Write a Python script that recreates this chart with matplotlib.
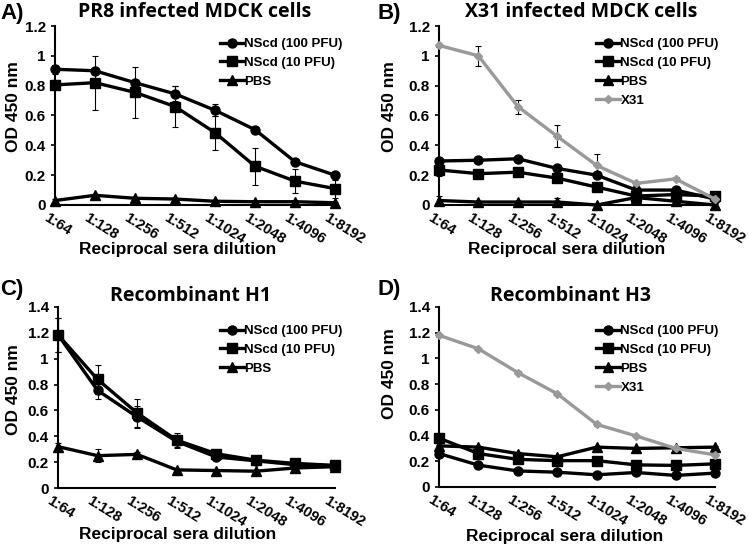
import numpy as np
from matplotlib import pyplot as plt
from matplotlib import transforms
from matplotlib.ticker import FuncFormatter

plt.rcParams['font.family'] = ['Liberation Sans', 'DejaVu Sans']
plt.rcParams['font.weight'] = 'bold'

dilutions = ['1:64', '1:128', '1:256', '1:512', '1:1024', '1:2048', '1:4096', '1:8192']
series_names = ['NScd (100 PFU)', 'NScd (10 PFU)', 'PBS', 'X31']

# A) PR8 infected MDCK cells
a_nscd100 = [0.91, 0.90, 0.82, 0.745, 0.635, 0.505, 0.29, 0.20]
a_nscd100_err = [0.03, 0.02, 0.02, 0.05, 0.04, 0.02, 0.02, 0.02]
a_nscd10 = [0.805, 0.82, 0.755, 0.66, 0.485, 0.26, 0.16, 0.11]
a_nscd10_err = [0.03, 0.18, 0.17, 0.135, 0.115, 0.125, 0.08, 0.06]
a_pbs = [0.03, 0.065, 0.045, 0.04, 0.025, 0.022, 0.022, 0.015]
a_pbs_err = [0.01, 0.01, 0.01, 0.01, 0.005, 0.005, 0.005, 0.005]

# B) X31 infected MDCK cells
b_nscd100 = [0.295, 0.30, 0.31, 0.245, 0.20, 0.10, 0.10, 0.04]
b_nscd100_err = [0.02, 0.01, 0.01, 0.01, 0.01, 0.02, 0.02, 0.01]
b_nscd10 = [0.235, 0.21, 0.22, 0.18, 0.12, 0.06, 0.07, 0.06]
b_nscd10_err = [0.04, 0.01, 0.01, 0.02, 0.01, 0.02, 0.02, 0.02]
b_pbs = [0.03, 0.02, 0.02, 0.02, 0.0, 0.05, 0.025, 0.0]
b_pbs_err = [0.03, 0.01, 0.01, 0.03, 0.01, 0.01, 0.01, 0.01]
b_x31 = [1.07, 1.0, 0.66, 0.46, 0.265, 0.145, 0.175, 0.04]
b_x31_err = [0.01, 0.065, 0.047, 0.073, 0.076, 0.01, 0.01, 0.01]

# C) Recombinant H1
c_nscd100 = [1.185, 0.755, 0.55, 0.36, 0.24, 0.21, 0.18, 0.165]
c_nscd100_err = [0.13, 0.067, 0.085, 0.05, 0.02, 0.02, 0.02, 0.02]
c_nscd10 = [1.185, 0.84, 0.58, 0.37, 0.265, 0.215, 0.19, 0.175]
c_nscd10_err = [0.13, 0.11, 0.11, 0.055, 0.02, 0.02, 0.02, 0.02]
c_pbs = [0.32, 0.25, 0.26, 0.14, 0.135, 0.13, 0.155, 0.165]
c_pbs_err = [0.03, 0.05, 0.02, 0.01, 0.01, 0.01, 0.01, 0.01]

# D) Recombinant H3
d_nscd100 = [0.26, 0.17, 0.125, 0.115, 0.095, 0.113, 0.09, 0.108]
d_nscd10 = [0.38, 0.26, 0.215, 0.205, 0.205, 0.172, 0.168, 0.18]
d_pbs = [0.32, 0.31, 0.26, 0.235, 0.31, 0.30, 0.305, 0.31]
d_x31 = [1.18, 1.075, 0.89, 0.725, 0.487, 0.397, 0.30, 0.25]
d_err = [0.01, 0.01, 0.01, 0.01, 0.01, 0.01, 0.01, 0.01]

styles = {
    'NScd (100 PFU)': dict(color='black', marker='o', ms=6.5),
    'NScd (10 PFU)': dict(color='black', marker='s', ms=7),
    'PBS': dict(color='black', marker='^', ms=6.5),
    'X31': dict(color='#999999', marker='D', ms=4),
}

W, H = 750, 544


def fx(px):
    return px / W


def fy(py):
    return 1 - py / H


def panel(rect, ymax, data, letter, title, title_pos, letter_pos, xlab_pos, ylab_pos, leg_pos):
    ax = fig.add_axes([fx(rect[0]), fy(rect[3]), fx(rect[2] - rect[0]), (rect[3] - rect[1]) / H])
    x = np.arange(len(dilutions))
    for name, vals, err in data:
        st = styles[name]
        ax.errorbar(x, vals, yerr=err, fmt='none', ecolor='black', elinewidth=0.8,
                    capsize=2.5, capthick=0.8, clip_on=False, zorder=2)
        ax.plot(x, vals, color=st['color'], lw=2.4, marker=st['marker'], ms=st['ms'],
                label=name, clip_on=False, zorder=3)
    ax.set_xlim(0, 7)
    ax.set_ylim(0, ymax)
    ax.set_yticks(np.arange(0, ymax + 0.01, 0.2))
    ax.yaxis.set_major_formatter(FuncFormatter(lambda v, p: '%g' % round(v, 1)))
    ax.set_xticks(x)
    ax.set_xticklabels(dilutions, rotation=-32, ha='left', va='top', rotation_mode='anchor')
    ax.tick_params(axis='y', labelsize=11, width=1.2, length=3, direction='out')
    ax.tick_params(axis='x', labelsize=10.5, length=0, pad=4)
    for s in ['top', 'right']:
        ax.spines[s].set_visible(False)
    for s in ['left', 'bottom']:
        ax.spines[s].set_linewidth(1.5)
    shift = transforms.ScaledTranslation(-6 / 100, 0, fig.dpi_scale_trans)
    for lab in ax.get_xticklabels():
        lab.set_transform(lab.get_transform() + shift)
    for lab in ax.get_xticklabels() + ax.get_yticklabels():
        lab.set_fontweight('bold')
    ax.legend(loc='upper left', bbox_to_anchor=(fx(leg_pos[0]), fy(leg_pos[1])),
              bbox_transform=fig.transFigure, frameon=False, fontsize=9.5,
              handlelength=1.8, handletextpad=0.05, labelspacing=0.5,
              borderpad=0, borderaxespad=0)
    fig.text(fx(letter_pos[0]), fy(letter_pos[1]), letter, fontsize=16, fontweight='bold',
             ha='left', va='center')
    fig.text(fx(title_pos[0]), fy(title_pos[1]), title, fontsize=14, fontweight='bold',
             family=['Open Sans', 'DejaVu Sans'], ha='center', va='center')
    fig.text(fx(xlab_pos[0]), fy(xlab_pos[1]), 'Reciprocal sera dilution', fontsize=12.5,
             fontweight='bold', ha='center', va='center')
    fig.text(fx(ylab_pos[0]), fy(ylab_pos[1]), 'OD 450 nm', fontsize=12.5, fontweight='bold',
             ha='center', va='center', rotation=90)
    return ax


fig = plt.figure(figsize=(7.5, 5.44), dpi=100)

panel((55, 26, 335, 205), 1.2,
      [('NScd (100 PFU)', a_nscd100, a_nscd100_err),
       ('NScd (10 PFU)', a_nscd10, a_nscd10_err),
       ('PBS', a_pbs, a_pbs_err)],
      'A)', 'PR8 infected MDCK cells', (195, 12), (0, 14), (178, 250), (14, 107), (220, 38))

panel((439, 26, 715, 205), 1.2,
      [('NScd (100 PFU)', b_nscd100, b_nscd100_err),
       ('NScd (10 PFU)', b_nscd10, b_nscd10_err),
       ('PBS', b_pbs, b_pbs_err),
       ('X31', b_x31, b_x31_err)],
      'B)', 'X31 infected MDCK cells', (581, 12), (377, 14), (567, 250), (389, 107), (596, 38))

panel((58, 307, 335, 488), 1.4,
      [('NScd (100 PFU)', c_nscd100, c_nscd100_err),
       ('NScd (10 PFU)', c_nscd10, c_nscd10_err),
       ('PBS', c_pbs, c_pbs_err)],
      'C)', 'Recombinant H1', (190, 296), (0, 290), (178, 535), (14, 390), (220, 325))

panel((439, 307, 715, 487), 1.4,
      [('NScd (100 PFU)', d_nscd100, d_err),
       ('NScd (10 PFU)', d_nscd10, d_err),
       ('PBS', d_pbs, d_err),
       ('X31', d_x31, d_err)],
      'D)', 'Recombinant H3', (570, 296), (377, 290), (565, 537), (389, 374), (596, 325))

fig.savefig('out.png', dpi=100)
